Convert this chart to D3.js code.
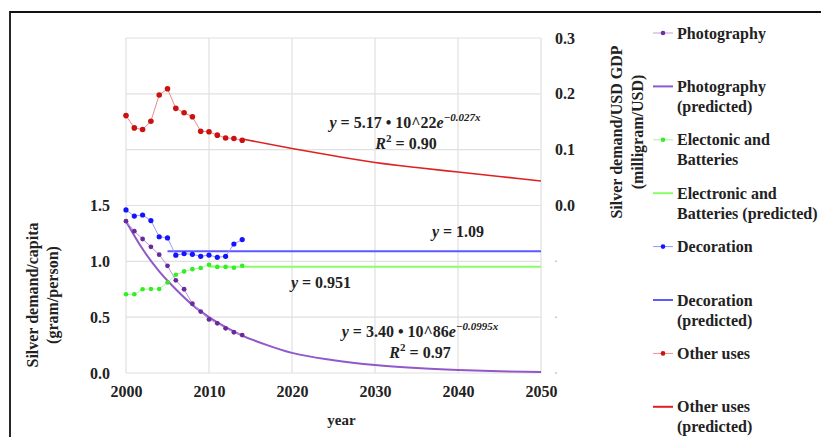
<!DOCTYPE html>
<html>
<head>
<meta charset="utf-8">
<script src="https://cdn.jsdelivr.net/npm/d3@7"></script>
<style>
  body { margin: 0; background: #fff; }
  svg text { font-family: "Liberation Serif", "Times New Roman", serif; font-weight: bold; fill: #222; }
</style>
</head>
<body>
<script>
'use strict'

// observed years
const years = [2000, 2001, 2002, 2003, 2004, 2005, 2006, 2007, 2008, 2009, 2010, 2011, 2012, 2013, 2014];

// silver demand per capita (gram/person) - left axis
const photography = [1.36, 1.27, 1.20, 1.13, 1.06, 0.96, 0.83, 0.75, 0.62, 0.55, 0.48, 0.445, 0.40, 0.365, 0.34];
const electronics = [0.705, 0.705, 0.75, 0.752, 0.752, 0.81, 0.88, 0.91, 0.93, 0.94, 0.97, 0.95, 0.95, 0.943, 0.96];
const decoration = [1.46, 1.405, 1.415, 1.365, 1.22, 1.21, 1.055, 1.068, 1.063, 1.045, 1.056, 1.036, 1.045, 1.155, 1.195];

// silver demand per USD GDP (milligram/USD) - right axis
const otherUses = [0.161, 0.139, 0.136, 0.151, 0.198, 0.209, 0.174, 0.166, 0.159, 0.133, 0.132, 0.126, 0.121, 0.120, 0.117];

// predicted curves
const photoPredYears = [2000, 2002, 2004, 2006, 2008, 2010, 2012, 2014, 2017, 2020, 2025, 2030, 2035, 2040, 2045, 2050];
const photoPred = [1.36, 1.11, 0.91, 0.75, 0.61, 0.50, 0.41, 0.335, 0.25, 0.18, 0.115, 0.072, 0.045, 0.027, 0.015, 0.008];
const elecPredYears = [2010, 2050];
const elecPred = [0.951, 0.951];
const decoPredYears = [2005, 2050];
const decoPred = [1.09, 1.09];
const otherPredYears = [2014, 2020, 2025, 2030, 2035, 2040, 2045, 2050];
const otherPred = [0.119, 0.102, 0.089, 0.077, 0.068, 0.060, 0.052, 0.044];

const xTicks = [2000, 2010, 2020, 2030, 2040, 2050];
const leftTicks = [0, 0.5, 1.0, 1.5];
const rightTicks = [0, 0.1, 0.2, 0.3];
const rightBlankTicks = [-0.1, -0.2, -0.3];

const legendItems = [
	{ lines: ["Photography"], color: "#7030a0", kind: "data" },
	{ lines: ["Photography", "(predicted)"], color: "#9257c9", kind: "pred" },
	{ lines: ["Electonic and", "Batteries"], color: "#33ee22", kind: "data" },
	{ lines: ["Electronic and", "Batteries (predicted)"], color: "#88ff66", kind: "pred" },
	{ lines: ["Decoration"], color: "#1414ff", kind: "data" },
	{ lines: ["Decoration", "(predicted)"], color: "#5a5aff", kind: "pred" },
	{ lines: ["Other uses"], color: "#cc1111", kind: "data" },
	{ lines: ["Other uses", "(predicted)"], color: "#dd2222", kind: "pred" }
];

const w = 821;
const h = 437;
const plotL = 126, plotR = 541, plotT = 38, plotB = 373;

const svg = d3.select("body")
	.append("svg")
	.attr("width", w)
	.attr("height", h);

// outer frame
svg.append("path")
	.attr("d", "M10," + (h + 5) + " L10,12 L" + (w + 5) + ",12")
	.attr("fill", "none")
	.attr("stroke", "#111")
	.attr("stroke-width", 1.8);

const xScale = d3.scaleLinear().domain([2000, 2050]).range([plotL, plotR]);
const yLeft = d3.scaleLinear().domain([0, 3]).range([plotB, plotT]);
const yRight = d3.scaleLinear().domain([-0.3, 0.3]).range([plotB, plotT]);

// grid
svg.append("g")
	.selectAll("line")
	.data(d3.range(0, 3.01, 0.5))
	.enter()
	.append("line")
	.attr("x1", plotL).attr("x2", plotR)
	.attr("y1", (d) => yLeft(d)).attr("y2", (d) => yLeft(d))
	.attr("stroke", "#e0e0e0")
	.attr("stroke-width", 1.2);

svg.append("g")
	.selectAll("line")
	.data(xTicks)
	.enter()
	.append("line")
	.attr("x1", (d) => xScale(d)).attr("x2", (d) => xScale(d))
	.attr("y1", plotT).attr("y2", plotB)
	.attr("stroke", "#e0e0e0")
	.attr("stroke-width", 1.2);

// axes
const xAxis = d3.axisBottom(xScale).tickValues(xTicks).tickFormat(d3.format("d")).tickSize(0).tickPadding(13);
const leftAxis = d3.axisLeft(yLeft).tickValues(leftTicks).tickFormat(d3.format(".1f")).tickSize(0).tickPadding(16);
const rightAxis = d3.axisRight(yRight).tickValues(rightTicks).tickFormat(d3.format(".1f")).tickSize(0).tickPadding(14);

[
	svg.append("g").attr("transform", "translate(0," + plotB + ")").call(xAxis),
	svg.append("g").attr("transform", "translate(" + plotL + ",0)").call(leftAxis),
	svg.append("g").attr("transform", "translate(" + plotR + ",0)").call(rightAxis)
].forEach((g) => {
	g.select(".domain").remove();
	g.selectAll("text").style("font-size", "16px").attr("fill", "#222");
});

// blank right ticks show as little grey marks
svg.append("g")
	.selectAll("circle")
	.data(rightBlankTicks)
	.enter()
	.append("circle")
	.attr("cx", 556)
	.attr("cy", (d) => yRight(d))
	.attr("r", 1)
	.attr("fill", "#c8c8c8");

// axis titles
svg.append("text")
	.attr("x", (plotL + plotR) / 2 + 8)
	.attr("y", 425)
	.attr("text-anchor", "middle")
	.style("font-size", "15px")
	.text("year");

const leftTitle = svg.append("text")
	.attr("transform", "translate(32,295) rotate(-90)")
	.attr("text-anchor", "middle")
	.style("font-size", "16px");
leftTitle.append("tspan").attr("x", 0).attr("dy", "0.35em").text("Silver demand/capita");
leftTitle.append("tspan").attr("x", 0).attr("dy", 20).text("(gram/person)");

const rightTitle = svg.append("text")
	.attr("transform", "translate(616,132) rotate(-90)")
	.attr("text-anchor", "middle")
	.style("font-size", "16px");
rightTitle.append("tspan").attr("x", 0).attr("dy", "0.35em").text("Silver demand/USD GDP");
rightTitle.append("tspan").attr("x", 0).attr("dy", 21).text("(milligram/USD)");

// series
const pairs = (xs, ys) => xs.map((x, i) => [x, ys[i]]);

function drawObserved(values, yScale, color, lineColor, r) {
	const data = pairs(years, values);
	svg.append("path")
		.datum(data)
		.attr("fill", "none")
		.attr("stroke", lineColor)
		.attr("stroke-width", 1)
		.attr("d", d3.line().x((d) => xScale(d[0])).y((d) => yScale(d[1])));
	svg.append("g")
		.selectAll("circle")
		.data(data)
		.enter()
		.append("circle")
		.attr("cx", (d) => xScale(d[0]))
		.attr("cy", (d) => yScale(d[1]))
		.attr("r", r)
		.attr("fill", color);
}

function drawPredicted(xs, values, yScale, color, width) {
	svg.append("path")
		.datum(pairs(xs, values))
		.attr("fill", "none")
		.attr("stroke", color)
		.attr("stroke-width", width)
		.attr("d", d3.line().curve(d3.curveMonotoneX).x((d) => xScale(d[0])).y((d) => yScale(d[1])));
}

drawPredicted(elecPredYears, elecPred, yLeft, "#88ff66", 2);
drawPredicted(decoPredYears, decoPred, yLeft, "#5a5aff", 2);
drawPredicted(photoPredYears, photoPred, yLeft, "#9257c9", 2);
drawPredicted(otherPredYears, otherPred, yRight, "#dd2222", 1.6);

drawObserved(electronics, yLeft, "#33ee22", "#a8f59a", 2.3);
drawObserved(decoration, yLeft, "#1414ff", "#9a9aff", 2.6);
drawObserved(photography, yLeft, "#6a2a9a", "#b898d6", 2.4);
drawObserved(otherUses, yRight, "#cc1111", "#ea8a8a", 2.8);

// fitted equations
function equation(x, y, coeff, expo) {
	const t = svg.append("text")
		.attr("x", x).attr("y", y)
		.attr("text-anchor", "middle")
		.style("font-size", "16px")
		.attr("fill", "#333");
	t.append("tspan").style("font-style", "italic").text("y");
	t.append("tspan").text(" = " + coeff);
	if (expo) {
		t.append("tspan").style("font-style", "italic").text("e");
		t.append("tspan").attr("dy", -7).style("font-size", "11px").style("font-style", "italic").text(expo);
	}
}

function rSquared(x, y, val) {
	const t = svg.append("text")
		.attr("x", x).attr("y", y)
		.attr("text-anchor", "middle")
		.style("font-size", "16px")
		.attr("fill", "#333");
	t.append("tspan").style("font-style", "italic").text("R");
	t.append("tspan").attr("dy", -7).style("font-size", "11px").text("2");
	t.append("tspan").attr("dy", 7).text(" = " + val);
}

equation(405, 128, "5.17 • 10^22", "−0.027x");
rSquared(406, 149, "0.90");
equation(458, 237, "1.09");
equation(321, 288, "0.951");
equation(420, 337, "3.40 • 10^86", "−0.0995x");
rSquared(420, 358, "0.97");

// legend
const legend = svg.append("g");
legendItems.forEach((item, i) => {
	const y = 33 + i * 53.4;
	const g = legend.append("g").attr("transform", "translate(0," + y + ")");
	g.append("line")
		.attr("x1", 653).attr("x2", 673)
		.attr("stroke", item.kind === "data" ? d3.interpolateRgb(item.color, "#fff")(0.55) : item.color)
		.attr("stroke-width", item.kind === "data" ? 1 : 2);
	if (item.kind === "data") {
		g.append("circle").attr("cx", 663).attr("r", 2.3).attr("fill", item.color);
	}
	item.lines.forEach((line, j) => {
		g.append("text")
			.attr("x", 677)
			.attr("y", j * 20)
			.attr("dy", "0.35em")
			.style("font-size", "16px")
			.text(line);
	});
});
</script>
</body>
</html>
